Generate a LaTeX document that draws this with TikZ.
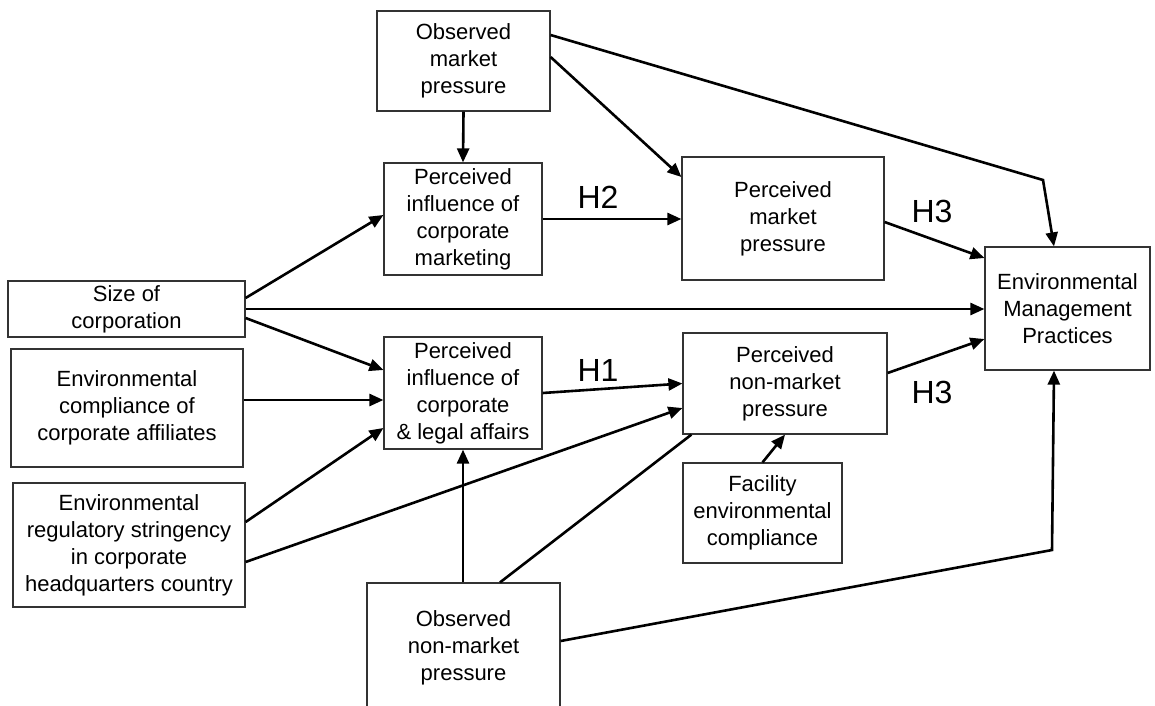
\documentclass[tikz,border=0pt]{standalone}
\usepackage{fontspec}
\setmainfont{Liberation Sans}
\usetikzlibrary{arrows.meta,calc}
\begin{document}
\begin{tikzpicture}[x=1pt,y=-1pt,
  box/.style={draw=black!80, line width=1.2pt, fill=white, inner sep=0pt, align=center,
    font=\fontsize{22}{27}\selectfont},
  conn/.style={line width=2.6pt, -{Triangle[length=14pt,width=12pt]}},
  plainline/.style={line width=2.6pt},
  hlab/.style={font=\fontsize{32}{36}\selectfont, inner sep=0pt}]
\useasboundingbox (0,0) rectangle (1155,705);

% nodes
\node[box, minimum width=173pt, minimum height=100pt] (omp) at (463.5,61) {Observed\\market\\pressure};
\node[box, minimum width=158pt, minimum height=112pt] (picm) at (463,219) {Perceived\\influence of\\corporate\\marketing};
\node[box, minimum width=202pt, minimum height=123pt] (pmp) at (783,218.5) {Perceived\\market\\pressure};
\node[box, minimum width=165pt, minimum height=123pt] (emp) at (1067.5,308.5) {Environmental\\Management\\Practices};
\node[box, minimum width=237pt, minimum height=56pt] (size) at (126.5,309) {Size of\\corporation};
\node[box, minimum width=232pt, minimum height=118pt] (comp) at (127,408) {Environmental\\compliance of\\corporate affiliates};
\node[box, minimum width=232pt, minimum height=124pt] (reg) at (129,545) {Environmental\\regulatory stringency\\in corporate\\headquarters country};
\node[box, minimum width=158pt, minimum height=112pt] (pila) at (463,393) {Perceived\\influence of\\corporate\\\& legal affairs};
\node[box, minimum width=204pt, minimum height=101pt] (pnmp) at (785,383.5) {Perceived\\non-market\\pressure};
\node[box, minimum width=159pt, minimum height=100pt] (fac) at (762.5,513) {Facility\\environmental\\compliance};
\node[box, minimum width=193pt, minimum height=130pt] (onmp) at (463.5,648) {Observed\\non-market\\pressure};

% labels
\node[hlab] (h2) at (598,197) {H2};
\node[hlab] (h1) at (598,370) {H1};
\node[hlab] (h3a) at (932,211) {H3};
\node[hlab] (h3b) at (932,392) {H3};

% bend points
\coordinate (bendtop) at (1043,180);
\coordinate (bendbot) at (1052,550);

% connectors
\draw[conn] (omp.south) -- (picm.north);
\draw[conn] ($(omp.east)+(0,-4)$) -- ($(pmp.west)+(0,-41.5)$);
\draw[conn] ($(omp.east)+(0,-26)$) -- (bendtop) -- ($(emp.north)+(-13.5,0)$);
\draw[conn] (picm.east) -- (picm.east -| pmp.west);
\draw[conn] ($(pmp.east)+(0,3.5)$) -- ($(emp.west)+(0,-50.5)$);
\draw[conn] ($(size.east)+(0,-11)$) -- ($(picm.west)+(0,-4)$);
\draw[conn] (size.east) -- (size.east -| emp.west);
\draw[conn] ($(size.east)+(0,9)$) -- ($(pila.west)+(0,-23)$);
\draw[conn] ($(comp.east)+(0,-8)$) -- ($(pila.west)+(0,7)$);
\draw[conn] ($(reg.east)+(0,-23)$) -- ($(pila.west)+(0,35)$);
\draw[conn] ($(reg.east)+(0,17)$) -- ($(pnmp.west)+(0,24.5)$);
\draw[conn] (pila.east) -- (pnmp.west);
\draw[conn] (onmp.north -| pila.south) -- (pila.south);
\draw[plainline] ($(onmp.north)+(36.5,0)$) -- ($(pnmp.south west)+(9,0)$);
\draw[conn] (fac.north) -- (pnmp.south);
\draw[conn] ($(pnmp.east)+(0,-10.5)$) -- ($(emp.west)+(0,30.5)$);
\draw[conn] ($(onmp.east)+(0,-7)$) -- (bendbot) -- ($(emp.south)+(-13.5,0)$);
\end{tikzpicture}
\end{document}
